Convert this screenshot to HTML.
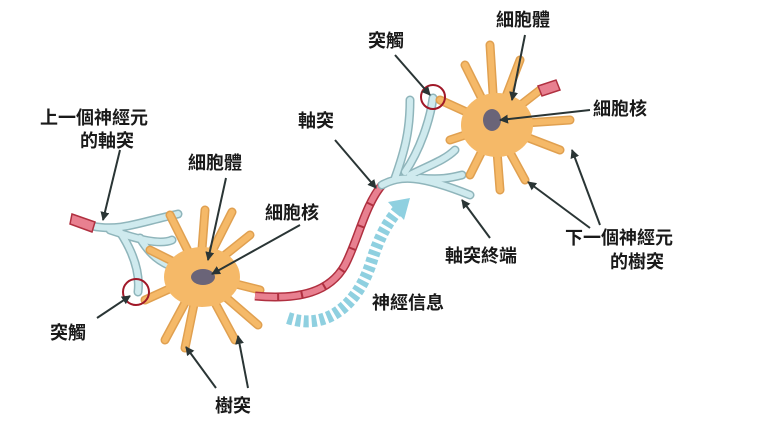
<!DOCTYPE html>
<html><head><meta charset="utf-8"><style>
html,body{margin:0;padding:0;background:#fff;}
svg{display:block}
text{font-family:"Liberation Sans","Noto Sans CJK TC",sans-serif;font-size:18px;fill:#1a1a1a;font-weight:600;}
</style></head><body>
<svg width="760" height="430" viewBox="0 0 760 430" xmlns="http://www.w3.org/2000/svg">
<defs>
<marker id="ar" markerWidth="9" markerHeight="9" refX="8" refY="4.5" orient="auto" markerUnits="userSpaceOnUse">
<path d="M0,0 L9,4.5 L0,9 z" fill="#2a3535"/></marker>
</defs>
<rect width="760" height="430" fill="#fff"/>

<!-- blue signal arrow -->
<path d="M288,318 C330,332 360,300 372,260 C380,235 388,222 398,210" fill="none" stroke="#8fd0e0" stroke-width="12" stroke-dasharray="5 3"/>
<path d="M388,202 L410,198 L404,220 z" fill="#8fd0e0"/>

<!-- left axon terminal (light blue) -->
<g fill="none" stroke="#8fb5bb" stroke-width="9" stroke-linecap="round">
<path d="M92,226 C120,232 140,222 178,214"/>
<path d="M110,230 C140,240 160,245 172,240"/>
<path d="M120,232 C135,255 140,275 138,292"/>
<path d="M140,238 C150,255 160,262 175,268"/>
</g>
<g fill="none" stroke="#cfeaee" stroke-width="6" stroke-linecap="round">
<path d="M92,226 C120,232 140,222 178,214"/>
<path d="M110,230 C140,240 160,245 172,240"/>
<path d="M120,232 C135,255 140,275 138,292"/>
<path d="M140,238 C150,255 160,262 175,268"/>
</g>
<path d="M72,214 L95,222 L92,232 L70,224 z" fill="#e88090" stroke="#b03040" stroke-width="1.5"/>

<!-- left soma -->
<g stroke="#e0a050" stroke-width="9" stroke-linecap="round" fill="none">
<path d="M200,275 L170,215"/><path d="M200,275 L205,210"/><path d="M200,275 L232,212"/>
<path d="M200,275 L250,235"/><path d="M200,275 L150,250"/><path d="M200,275 L145,300"/>
<path d="M200,275 L165,340"/><path d="M200,275 L185,348"/><path d="M200,275 L235,340"/>
<path d="M200,275 L258,325"/><path d="M200,275 L260,290"/>
</g>
<g stroke="#f5b968" stroke-width="6" stroke-linecap="round" fill="none">
<path d="M200,275 L170,215"/><path d="M200,275 L205,210"/><path d="M200,275 L232,212"/>
<path d="M200,275 L250,235"/><path d="M200,275 L150,250"/><path d="M200,275 L145,300"/>
<path d="M200,275 L165,340"/><path d="M200,275 L185,348"/><path d="M200,275 L235,340"/>
<path d="M200,275 L258,325"/><path d="M200,275 L260,290"/>
</g>
<ellipse cx="202" cy="277" rx="38" ry="30" fill="#f5b968"/>
<ellipse cx="203" cy="277" rx="12" ry="8" fill="#6a6478"/>

<!-- axon -->
<path d="M255,296 C300,300 330,292 345,265 C358,240 365,205 382,185" fill="none" stroke="#b03040" stroke-width="9"/>
<path d="M255,296 C300,300 330,292 345,265 C358,240 365,205 382,185" fill="none" stroke="#e88090" stroke-width="6" stroke-dasharray="22 2"/>

<!-- right axon terminal -->
<g fill="none" stroke="#8fb5bb" stroke-width="9" stroke-linecap="round">
<path d="M382,185 C400,175 420,175 470,195"/>
<path d="M395,178 C405,150 410,130 410,100"/>
<path d="M405,172 C420,150 430,120 433,98"/>
<path d="M410,175 C430,165 445,160 455,150"/>
<path d="M420,178 C440,180 450,178 462,175"/>
</g>
<g fill="none" stroke="#cfeaee" stroke-width="6" stroke-linecap="round">
<path d="M382,185 C400,175 420,175 470,195"/>
<path d="M395,178 C405,150 410,130 410,100"/>
<path d="M405,172 C420,150 430,120 433,98"/>
<path d="M410,175 C430,165 445,160 455,150"/>
<path d="M420,178 C440,180 450,178 462,175"/>
</g>

<!-- right soma -->
<g stroke="#e0a050" stroke-width="9" stroke-linecap="round" fill="none">
<path d="M495,125 L490,45"/><path d="M495,125 L465,65"/><path d="M495,125 L440,100"/>
<path d="M495,125 L450,140"/><path d="M495,125 L470,175"/><path d="M495,125 L500,190"/>
<path d="M495,125 L525,180"/><path d="M495,125 L560,150"/><path d="M495,125 L570,120"/>
<path d="M495,125 L540,90"/><path d="M495,125 L520,60"/>
</g>
<g stroke="#f5b968" stroke-width="6" stroke-linecap="round" fill="none">
<path d="M495,125 L490,45"/><path d="M495,125 L465,65"/><path d="M495,125 L440,100"/>
<path d="M495,125 L450,140"/><path d="M495,125 L470,175"/><path d="M495,125 L500,190"/>
<path d="M495,125 L525,180"/><path d="M495,125 L560,150"/><path d="M495,125 L570,120"/>
<path d="M495,125 L540,90"/><path d="M495,125 L520,60"/>
</g>
<ellipse cx="497" cy="125" rx="36" ry="32" fill="#f5b968"/>
<ellipse cx="492" cy="120" rx="9" ry="11" fill="#6a6478"/>
<path d="M538,86 L556,80 L560,90 L542,96 z" fill="#e88090" stroke="#b03040" stroke-width="1.5"/>

<!-- synapse circles -->
<circle cx="136" cy="292" r="13" fill="none" stroke="#a01828" stroke-width="2"/>
<circle cx="433" cy="97" r="12" fill="none" stroke="#a01828" stroke-width="2"/>

<!-- arrows -->
<g stroke="#2a3535" stroke-width="2" marker-end="url(#ar)">
<line x1="120" y1="150" x2="103" y2="220"/>
<line x1="226" y1="178" x2="208" y2="260"/>
<line x1="300" y1="225" x2="212" y2="274"/>
<line x1="97" y1="318" x2="130" y2="296"/>
<line x1="216" y1="388" x2="186" y2="347"/>
<line x1="248" y1="388" x2="238" y2="336"/>
<line x1="335" y1="140" x2="376" y2="188"/>
<line x1="395" y1="55" x2="430" y2="95"/>
<line x1="525" y1="35" x2="512" y2="100"/>
<line x1="590" y1="110" x2="500" y2="120"/>
<line x1="490" y1="238" x2="462" y2="200"/>
<line x1="600" y1="225" x2="572" y2="150"/>
<line x1="590" y1="228" x2="528" y2="182"/>
</g>

<!-- labels -->
<text x="40" y="124">上一個神經元</text>
<text x="80" y="147">的軸突</text>
<text x="188" y="169">細胞體</text>
<text x="265" y="219">細胞核</text>
<text x="50" y="339">突觸</text>
<text x="215" y="412">樹突</text>
<text x="298" y="127">軸突</text>
<text x="368" y="47">突觸</text>
<text x="496" y="26">細胞體</text>
<text x="593" y="115">細胞核</text>
<text x="445" y="262">軸突終端</text>
<text x="565" y="244">下一個神經元</text>
<text x="610" y="268">的樹突</text>
<text x="372" y="309">神經信息</text>
</svg>
</body></html>
